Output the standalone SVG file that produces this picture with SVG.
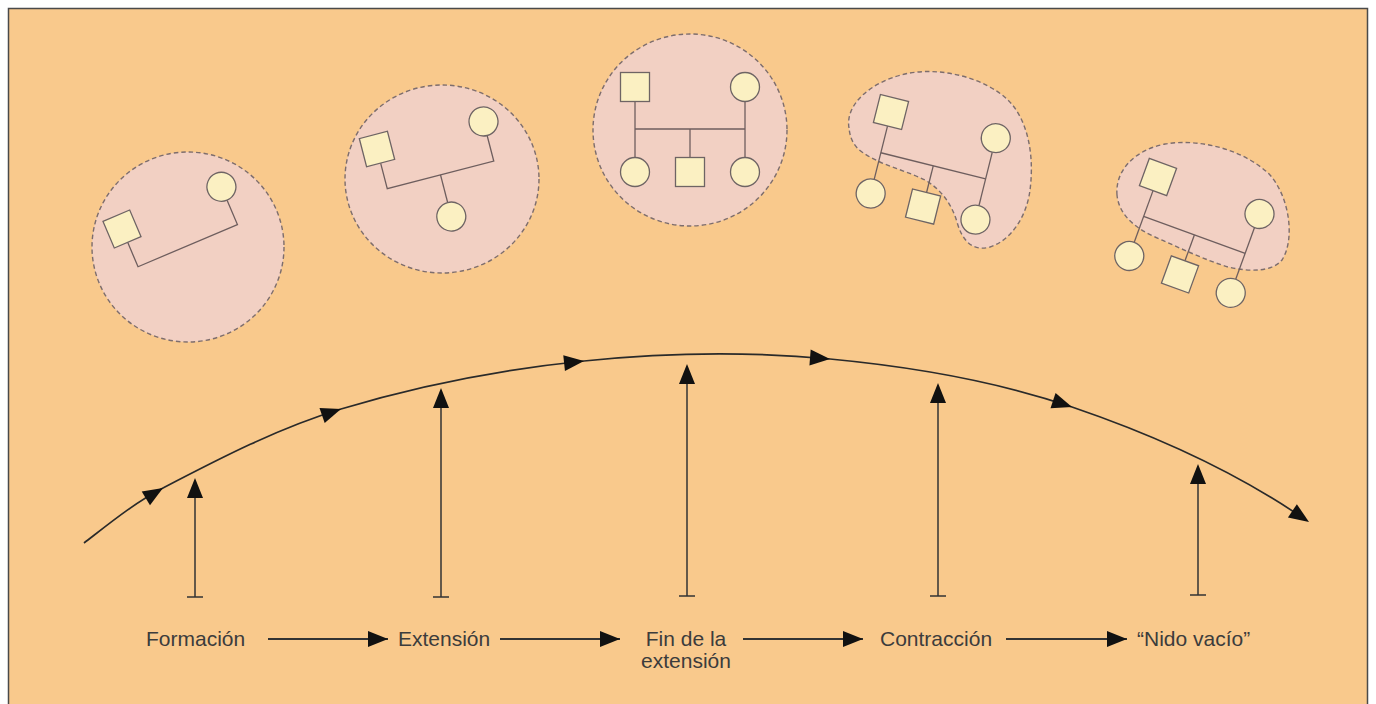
<svg xmlns="http://www.w3.org/2000/svg" xmlns:xlink="http://www.w3.org/1999/xlink" width="1376" height="704" viewBox="0 0 1376 704">
<style>
.bub{fill:#F2D0C3;stroke:#7d6d6d;stroke-width:1.4;stroke-dasharray:4.5 3}
.sq,.ci{fill:#FBF0C2;stroke:#6e6464;stroke-width:1.3}
.ln{fill:none;stroke:#6e5e5e;stroke-width:1.3}
.curve{fill:none;stroke:#2a2a2a;stroke-width:1.7}
.up{stroke:#333;stroke-width:1.5;fill:none}
.hz{stroke:#333;stroke-width:2.2;fill:none}
.head{fill:#111}
.lbl{font-family:"Liberation Sans",Arial,sans-serif;font-size:21px;fill:#3c3c3c}
</style>
<defs>
<path id="tri" d="M-20,-8 L0,0 L-20,8 Z"/>
<marker id="ah" viewBox="0 0 20 16" refX="20" refY="8" markerWidth="20" markerHeight="16" markerUnits="userSpaceOnUse" orient="auto"><path d="M0,0 L20,8 L0,16 Z" fill="#111"/></marker>
</defs>
<rect x="0" y="0" width="1376" height="704" fill="#ffffff"/>
<rect x="8.5" y="8.5" width="1359" height="720" fill="#F9C98C" stroke="#4a4a4a" stroke-width="1.5"/>

<g id="bubble-formacion">
<ellipse class="bub" cx="188" cy="247" rx="96" ry="95"/>
<g transform="translate(122,229) rotate(-23)">
<polyline class="ln" points="0,14.5 0,41 108,41 108,14.5"/>
<rect class="sq" x="-14.5" y="-14.5" width="29" height="29"/>
<circle class="ci" cx="108" cy="0" r="14.5"/>
</g>
</g>

<g id="bubble-extension">
<ellipse class="bub" cx="442" cy="179" rx="97" ry="94"/>
<g transform="translate(377,149) rotate(-14.5)">
<polyline class="ln" points="0,14.5 0,41 110,41 110,14.5"/>
<line class="ln" x1="55" y1="41" x2="55" y2="69.5"/>
<rect class="sq" x="-14.5" y="-14.5" width="29" height="29"/>
<circle class="ci" cx="110" cy="0" r="14.5"/>
<circle class="ci" cx="55" cy="84" r="14.5"/>
</g>
</g>

<g id="bubble-fin-extension">
<ellipse class="bub" cx="690" cy="130" rx="97" ry="96"/>
<g transform="translate(635,87)">
<line class="ln" x1="0" y1="14.5" x2="0" y2="70.5"/>
<line class="ln" x1="110" y1="14.5" x2="110" y2="70.5"/>
<line class="ln" x1="0" y1="42" x2="110" y2="42"/>
<line class="ln" x1="55" y1="42" x2="55" y2="70.5"/>
<rect class="sq" x="-14.5" y="-14.5" width="29" height="29"/>
<circle class="ci" cx="110" cy="0" r="14.5"/>
<circle class="ci" cx="0" cy="85" r="14.5"/>
<rect class="sq" x="40.5" y="70.5" width="29" height="29"/>
<circle class="ci" cx="110" cy="85" r="14.5"/>
</g>
</g>

<g id="bubble-contraccion">
<path class="bub" d="M849,128 C845,105 870,82 905,74 C940,66 985,78 1008,100 C1030,122 1034,160 1030,190 C1027,215 1012,240 990,247 C972,252 962,240 957,222 C952,205 942,190 925,180 C905,170 880,165 862,152 C852,145 850,136 849,128 Z"/>
<g transform="translate(891,112) rotate(14)">
<line class="ln" x1="0" y1="14.5" x2="0" y2="69.5"/>
<line class="ln" x1="108" y1="14.5" x2="108" y2="69.5"/>
<line class="ln" x1="0" y1="42" x2="108" y2="42"/>
<line class="ln" x1="54" y1="42" x2="54" y2="69.5"/>
<rect class="sq" x="-14.5" y="-14.5" width="29" height="29"/>
<circle class="ci" cx="108" cy="0" r="14.5"/>
<circle class="ci" cx="0" cy="84" r="14.5"/>
<rect class="sq" x="39.5" y="69.5" width="29" height="29"/>
<circle class="ci" cx="108" cy="84" r="14.5"/>
</g>
</g>

<g id="bubble-nido-vacio">
<path class="bub" d="M1117,195 C1115,170 1135,150 1165,144 C1200,138 1245,150 1270,175 C1290,198 1295,240 1282,260 C1272,272 1250,272 1228,267 C1205,260 1180,248 1155,237 C1135,228 1119,215 1117,195 Z"/>
<g transform="translate(1158,177) rotate(20)">
<line class="ln" x1="0" y1="14.5" x2="0" y2="69.5"/>
<line class="ln" x1="108" y1="14.5" x2="108" y2="69.5"/>
<line class="ln" x1="0" y1="42" x2="108" y2="42"/>
<line class="ln" x1="54" y1="42" x2="54" y2="69.5"/>
<rect class="sq" x="-14.5" y="-14.5" width="29" height="29"/>
<circle class="ci" cx="108" cy="0" r="14.5"/>
<circle class="ci" cx="0" cy="84" r="14.5"/>
<rect class="sq" x="39.5" y="69.5" width="29" height="29"/>
<circle class="ci" cx="108" cy="84" r="14.5"/>
</g>
</g>

<g id="connectors">
<path class="curve" d="M84,543 C109.4,523.4 134.5,502.8 163,488 C220.6,458 278.9,427.8 341,409 C420,385.1 501.8,369.4 584,361 C665.6,352.6 748.4,351.3 830,359 C911.8,366.7 994.2,380.5 1072,407 C1155.1,435.3 1236.1,472.8 1300,516"/>
<g class="head">
<use xlink:href="#tri" href="#tri" transform="translate(163,488) rotate(-31)"/>
<use xlink:href="#tri" href="#tri" transform="translate(341,409) rotate(-19)"/>
<use xlink:href="#tri" href="#tri" transform="translate(584,361) rotate(-6)"/>
<use xlink:href="#tri" href="#tri" transform="translate(830,359) rotate(4.5)"/>
<use xlink:href="#tri" href="#tri" transform="translate(1072,407) rotate(18.5)"/>
<use xlink:href="#tri" href="#tri" transform="translate(1309,522) rotate(34)"/>
</g>
<g class="up">
<path d="M195,597 V490 M187,597 H203"/>
<path d="M441,597 V400 M433,597 H449"/>
<path d="M687,596 V376 M679,596 H695"/>
<path d="M938,596 V395 M930,596 H946"/>
<path d="M1198,595 V476 M1190,595 H1206"/>
</g>
<g class="head">
<use xlink:href="#tri" href="#tri" transform="translate(195,478) rotate(-90)"/>
<use xlink:href="#tri" href="#tri" transform="translate(441,388) rotate(-90)"/>
<use xlink:href="#tri" href="#tri" transform="translate(687,364) rotate(-90)"/>
<use xlink:href="#tri" href="#tri" transform="translate(938,383) rotate(-90)"/>
<use xlink:href="#tri" href="#tri" transform="translate(1198,464) rotate(-90)"/>
</g>
<g class="hz">
<line x1="268" y1="639" x2="388" y2="639" marker-end="url(#ah)"/>
<line x1="500" y1="639" x2="620" y2="639" marker-end="url(#ah)"/>
<line x1="743" y1="639" x2="863" y2="639" marker-end="url(#ah)"/>
<line x1="1006" y1="639" x2="1127" y2="639" marker-end="url(#ah)"/>
</g>
</g>

<g id="labels" class="lbl">
<text x="146" y="646">Formación</text>
<text x="398" y="646">Extensión</text>
<text x="686" y="646" text-anchor="middle">Fin de la</text>
<text x="686" y="668" text-anchor="middle">extensión</text>
<text x="880" y="646">Contracción</text>
<text x="1137" y="646">“Nido vacío”</text>
</g>
</svg>
